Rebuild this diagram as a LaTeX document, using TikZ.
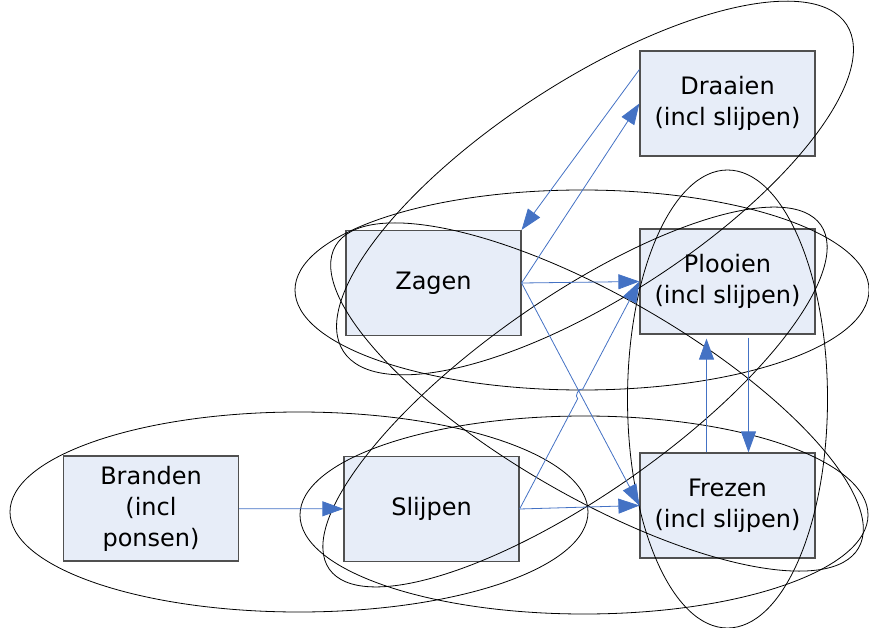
\documentclass[tikz,border=0pt]{standalone}
\usepackage{fontspec}
\setmainfont{DejaVu Sans}
\usepackage{xcolor}
\usepackage{tikz}
\usetikzlibrary{arrows.meta, calc}
\definecolor{procfill}{RGB}{231,237,248}
\definecolor{procline}{RGB}{80,80,80}
\definecolor{flowblue}{RGB}{68,114,196}

\begin{document}
\begin{tikzpicture}[x=1pt, y=-1pt,
  proc/.style={draw=procline, line width=1.2pt, fill=procfill, minimum width=175pt, minimum height=105pt, inner sep=0pt, align=center, font=\fontsize{24}{31}\selectfont},
  flow/.style={draw=flowblue, line width=0.8pt, -{Triangle[length=21pt, width=15pt]}},
  group/.style={draw=black, line width=0.8pt}]
\useasboundingbox (0,0) rectangle (869,628);

% Processes
\node[proc] (draai) at (727.5,103.5) {Draaien\\(incl slijpen)};
\node[proc] (zag) at (433.5,283) {Zagen};
\node[proc] (ploo) at (727.5,281.5) {Plooien\\(incl slijpen)};
\node[proc] (brand) at (151,508.5) {Branden\\(incl\\ponsen)};
\node[proc] (slij) at (431.5,509) {Slijpen};
\node[proc] (frez) at (727.5,505.5) {Frezen\\(incl slijpen)};

% Groups
\draw[group] (582,290) ellipse [x radius=287, y radius=100];
\draw[group] (299,512) ellipse [x radius=289, y radius=100];
\draw[group] (584,515) ellipse [x radius=284, y radius=99];
\draw[group] (727.5,399) ellipse [x radius=100, y radius=229];
\draw[group, rotate around={33:(595,188)}] (595,188) ellipse [x radius=300, y radius=108];
\draw[group, rotate around={-30:(597,397)}] (597,397) ellipse [x radius=302, y radius=100];
\draw[group, rotate around={35:(575,397)}] (575,397) ellipse [x radius=300, y radius=98];

% Flows
\coordinate (draiport) at ($(draai.north west)!0.18!(draai.south west)$);
\coordinate (hopa) at ($(slij.east)!0.485!(ploo.west)$);
\coordinate (hopb) at ($(slij.east)!0.527!(ploo.west)$);
\draw[flow] (brand) -- (slij);
\draw[flow] (slij.east) -- (frez.west);
\draw[flow] (slij.east) -- (hopa) to[bend left=90] (hopb) -- (ploo.west);
\draw[flow] (zag.east) -- (ploo.west);
\draw[flow] (zag.east) -- (frez.west);
\draw[flow] (zag.east) -- (draai.west);
\draw[flow] (draiport) -- (zag.north east);
\draw[flow, shorten >=4pt] ([xshift=-21pt]frez.north) -- ([xshift=-21pt]ploo.south);
\draw[flow, shorten <=3pt] ([xshift=21pt]ploo.south) -- ([xshift=21pt]frez.north);
\end{tikzpicture}
\end{document}
